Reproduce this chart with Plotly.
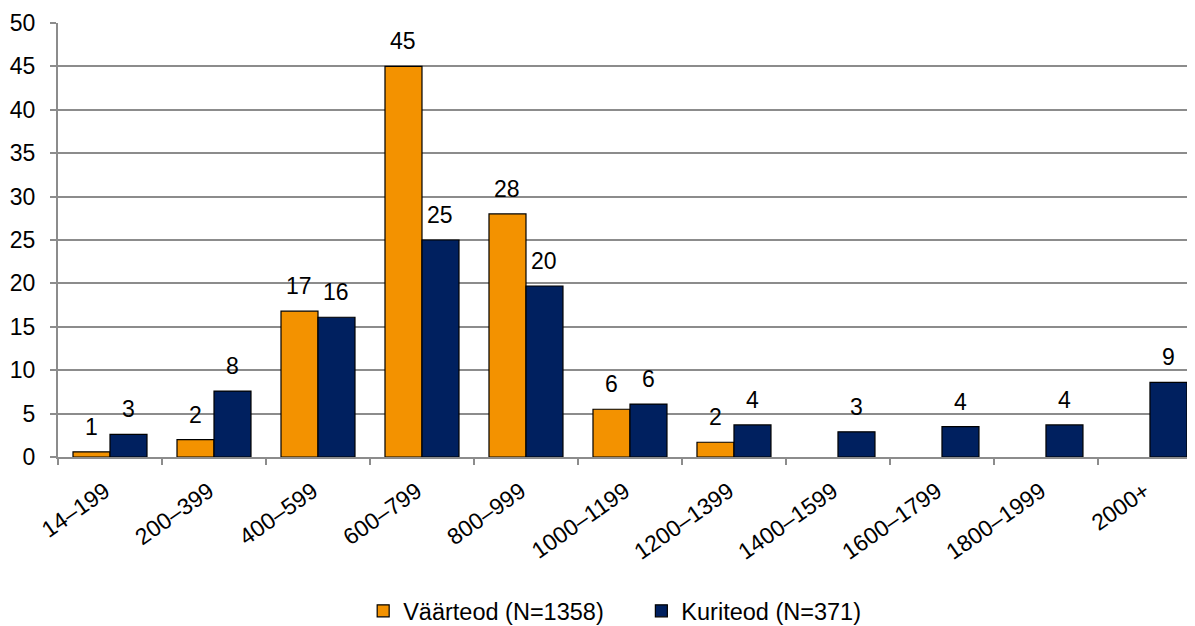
import plotly.graph_objects as go

categories = ["14–199", "200–399", "400–599", "600–799", "800–999", "1000–1199",
              "1200–1399", "1400–1599", "1600–1799", "1800–1999", "2000+"]
vaarteod = [0.6, 2.0, 16.8, 45.0, 28.0, 5.5, 1.7, None, None, None, None]
kuriteod = [2.6, 7.6, 16.1, 25.0, 19.7, 6.1, 3.7, 2.9, 3.5, 3.7, 8.6]
vaarteod_labels = ["1", "2", "17", "45", "28", "6", "2", "", "", "", ""]
kuriteod_labels = ["3", "8", "16", "25", "20", "6", "4", "3", "4", "4", "9"]
y_ticks = [0, 5, 10, 15, 20, 25, 30, 35, 40, 45, 50]

ORANGE = "#F39200"
NAVY = "#00205F"
GRID = "#8C8C8C"
FONT = "Liberation Sans, Arial, sans-serif"
PAD = "\u00a0" * 5

fig = go.Figure()
fig.add_trace(go.Bar(name="Väärteod (N=1358)" + PAD, x=categories, y=vaarteod,
                     marker=dict(color=ORANGE, line=dict(color="black", width=1.2))))
fig.add_trace(go.Bar(name="Kuriteod (N=371)", x=categories, y=kuriteod,
                     marker=dict(color=NAVY, line=dict(color="black", width=1.2))))

annotations = []
for cat, v, lab in zip(categories, vaarteod, vaarteod_labels):
    if v is not None and lab:
        annotations.append(dict(x=cat, y=v, text=lab, xref="x", yref="y", showarrow=False,
                                xshift=-18.5, yshift=10, yanchor="bottom"))
for cat, v, lab in zip(categories, kuriteod, kuriteod_labels):
    if v is not None and lab:
        annotations.append(dict(x=cat, y=v, text=lab, xref="x", yref="y", showarrow=False,
                                xshift=18.5, yshift=10, yanchor="bottom"))

# page body has an 8px default margin, so the figure is sized/offset to compensate
fig.update_layout(
    width=1187, height=618,
    margin=dict(l=50, r=0, t=15, b=169, autoexpand=False),
    paper_bgcolor="white", plot_bgcolor="white",
    font=dict(family=FONT, size=23, color="black"),
    barmode="group", bargap=0.2885, bargroupgap=0,
    annotations=annotations,
    showlegend=True,
    legend=dict(orientation="h", x=0.4896, xanchor="center", y=-0.355, yanchor="middle",
                font=dict(size=23.5), itemwidth=30, traceorder="normal"),
    xaxis=dict(range=[-0.5, 10.433], tickangle=-35, showline=True, linecolor=GRID, linewidth=2,
               ticks="outside", tickson="boundaries", ticklen=6, tickcolor=GRID, tickwidth=2,
               showgrid=False, tickfont=dict(size=23), automargin=False,
               ticklabelstandoff=10, ticklabelshift=-5),
    yaxis=dict(range=[0, 50], tickvals=y_ticks, showline=True, linecolor=GRID, linewidth=2,
               showgrid=True, gridcolor=GRID, gridwidth=2, zeroline=False,
               ticks="outside", ticklen=6, tickcolor=GRID, tickwidth=2,
               ticklabelstandoff=10, tickfont=dict(size=23), automargin=False),
)

fig.write_html("out.html")
